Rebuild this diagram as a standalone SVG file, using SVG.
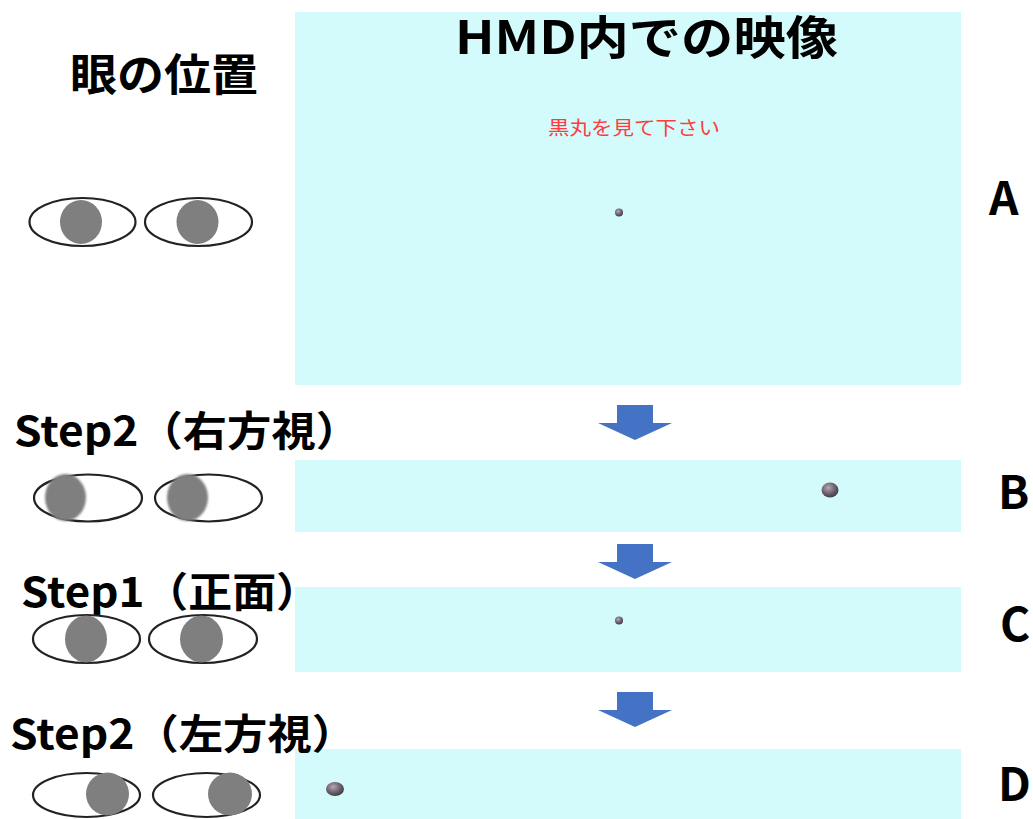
<svg xmlns="http://www.w3.org/2000/svg" width="1033" height="819" viewBox="0 0 1033 819">
  <style>
    .screen { fill: #d4fbfb; }
    .label { font-family: "Noto Sans CJK JP", "Liberation Sans", sans-serif; font-weight: bold; fill: #000; }
    .eye { fill: #fff; stroke: #222; stroke-width: 2.2; }
    .pupil { fill: #7f7f7f; }
    .arrow { fill: #4472c4; }
  </style>
  <defs>
    <radialGradient id="ball" cx="0.4" cy="0.35" r="0.7">
      <stop offset="0" stop-color="#b3aab3"/>
      <stop offset="0.55" stop-color="#6e6270"/>
      <stop offset="1" stop-color="#3c3540"/>
    </radialGradient>
    <filter id="soft" x="-20%" y="-20%" width="140%" height="140%">
      <feGaussianBlur stdDeviation="1.2"/>
    </filter>
    <path id="down" d="M-18,0 H18 V18 H37 L0,35 L-37,18 H-18 Z"/>
  </defs>

  <!-- screen panels -->
  <g id="screenA"><rect class="screen" x="295" y="12" width="666" height="373"/></g>
  <g id="screenB"><rect class="screen" x="295" y="460" width="666" height="72"/></g>
  <g id="screenC"><rect class="screen" x="295" y="587" width="666" height="85"/></g>
  <g id="screenD"><rect class="screen" x="295" y="749" width="666" height="70"/></g>

  <!-- headings -->
  <g id="title-eye"><text class="label" x="70" y="91" font-size="44" textLength="188" lengthAdjust="spacingAndGlyphs">眼の位置</text></g>
  <g id="title-hmd"><text class="label" x="455" y="54" font-size="46" textLength="383" lengthAdjust="spacingAndGlyphs">HMD内での映像</text></g>
  <g id="instruction"><text x="548" y="135" font-family="'Noto Sans CJK JP', sans-serif" font-size="19" fill="#ff3b3b" textLength="172" lengthAdjust="spacingAndGlyphs">黒丸を見て下さい</text></g>

  <!-- step labels -->
  <g id="step-right"><text class="label" x="14" y="446" font-size="41" textLength="346" lengthAdjust="spacingAndGlyphs">Step2（右方視）</text></g>
  <g id="step-front"><text class="label" x="21" y="607" font-size="41" textLength="299" lengthAdjust="spacingAndGlyphs">Step1（正面）</text></g>
  <g id="step-left"><text class="label" x="10" y="749" font-size="41" textLength="346" lengthAdjust="spacingAndGlyphs">Step2（左方視）</text></g>

  <!-- row letters -->
  <g id="letter-A"><text class="label" x="989" y="215" font-size="46">A</text></g>
  <g id="letter-B"><text class="label" x="998" y="509" font-size="46">B</text></g>
  <g id="letter-C"><text class="label" x="1000" y="641" font-size="46">C</text></g>
  <g id="letter-D"><text class="label" x="998" y="801" font-size="46">D</text></g>

  <!-- eyes, row A (straight ahead) -->
  <g id="eyes-A">
    <ellipse class="eye" cx="82.5" cy="222" rx="53" ry="24"/>
    <ellipse class="pupil" cx="81" cy="222" rx="21" ry="22"/>
    <ellipse class="eye" cx="198.5" cy="222" rx="53.5" ry="24"/>
    <ellipse class="pupil" cx="197.5" cy="222" rx="21" ry="22"/>
  </g>

  <!-- eyes, row B (looking right) -->
  <g id="eyes-B">
    <ellipse class="eye" cx="88" cy="498" rx="54" ry="23.5"/>
    <ellipse class="pupil" cx="65.5" cy="497.5" rx="20.5" ry="23.5" filter="url(#soft)"/>
    <ellipse class="eye" cx="208.5" cy="498" rx="53.5" ry="23.5"/>
    <ellipse class="pupil" cx="187.5" cy="497.5" rx="20.5" ry="23.5" filter="url(#soft)"/>
  </g>

  <!-- eyes, row C (straight ahead) -->
  <g id="eyes-C">
    <ellipse class="eye" cx="86.5" cy="639" rx="53.5" ry="24"/>
    <ellipse class="pupil" cx="86" cy="639" rx="21" ry="23.5"/>
    <ellipse class="eye" cx="203" cy="639" rx="54" ry="24"/>
    <ellipse class="pupil" cx="201.5" cy="639" rx="21.5" ry="23.5"/>
  </g>

  <!-- eyes, row D (looking left) -->
  <g id="eyes-D">
    <ellipse class="eye" cx="86.5" cy="795" rx="53.5" ry="22"/>
    <ellipse class="pupil" cx="107.5" cy="794" rx="21.5" ry="21.5"/>
    <ellipse class="eye" cx="206.5" cy="795" rx="53.5" ry="22"/>
    <ellipse class="pupil" cx="230" cy="794" rx="22" ry="21.5"/>
  </g>

  <!-- fixation targets -->
  <g id="target-A"><circle cx="619" cy="212.5" r="4" fill="url(#ball)"/></g>
  <g id="target-B"><ellipse cx="830" cy="490" rx="8.5" ry="7.5" fill="url(#ball)"/></g>
  <g id="target-C"><circle cx="619" cy="620.5" r="4" fill="url(#ball)"/></g>
  <g id="target-D"><ellipse cx="335" cy="789" rx="9" ry="7" fill="url(#ball)"/></g>

  <!-- sequence arrows -->
  <g id="connectors">
    <use href="#down" class="arrow" x="635" y="405"/>
    <use href="#down" class="arrow" x="635" y="544"/>
    <use href="#down" class="arrow" x="635" y="692"/>
  </g>
</svg>
